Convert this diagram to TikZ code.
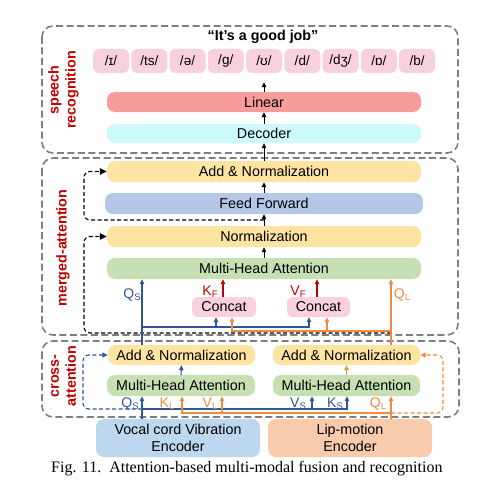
\documentclass[tikz,border=0pt]{standalone}
\usepackage{fontspec}
\setmainfont{Liberation Sans}
\newfontfamily\capfont{Liberation Serif}
\usetikzlibrary{arrows.meta,calc}
\definecolor{grayd}{HTML}{7F7F7F}
\definecolor{secred}{HTML}{C00000}
\definecolor{bcol}{HTML}{2F5597}
\definecolor{ocol}{HTML}{F08A3C}
\definecolor{rcol}{HTML}{C00000}
\definecolor{pinkf}{HTML}{F9D0DD}
\definecolor{linf}{HTML}{F79B9B}
\definecolor{decf}{HTML}{CCF9FA}
\definecolor{yelf}{HTML}{FDE4A2}
\definecolor{fff}{HTML}{B4C7E7}
\definecolor{grnf}{HTML}{C6E0B4}
\definecolor{vocf}{HTML}{BDD7EE}
\definecolor{lipf}{HTML}{F8CBAD}
\tikzset{
  x=1pt,y=-1pt,
  every node/.style={font=\fontsize{14.3}{16}\selectfont, inner sep=0pt},
  sect/.style={draw=grayd, line width=1.6pt, dash pattern=on 7pt off 3.5pt, rounded corners=11pt},
  seclab/.style={text=secred, font=\fontsize{14.3}{17}\selectfont\bfseries, rotate=90, align=center},
  bar/.style={rounded corners=8pt, minimum height=21pt},
  phon/.style={fill=pinkf, rounded corners=6pt, minimum width=36pt, minimum height=24pt, font=\fontsize{13.5}{16}\selectfont},
  ybox/.style={bar, fill=yelf},
  gbox/.style={bar, fill=grnf},
  cbox/.style={fill=pinkf, rounded corners=6pt, minimum width=64pt, minimum height=20pt},
  arr/.style={-{Triangle[length=5pt,width=4.5pt]}, line width=0.9pt},
  carr/.style={-{Triangle[length=5pt,width=4.5pt]}, line width=1.1pt},
  darr/.style={-{Triangle[length=7pt,width=6.5pt]}, line width=1.1pt, dash pattern=on 4pt off 2.5pt, rounded corners=6pt},
  cdarr/.style={-{Triangle[length=5.5pt,width=5pt]}, line width=1.1pt, dash pattern=on 4pt off 2.5pt, rounded corners=6pt},
  lab/.style={font=\fontsize{14}{16}\selectfont}
}
\newcommand{\sub}[1]{\raisebox{-0.3ex}{\fontsize{9.5}{10}\selectfont #1}}
\begin{document}
\begin{tikzpicture}
\useasboundingbox (0,0) rectangle (485,487);
% section frames
\draw[sect] (42,26) rectangle (458,153);
\draw[sect] (42,158) rectangle (458,335);
\draw[sect] (42,341) rectangle (459,417);
\node[seclab] (l1) at (63.5,90) {speech\\recognition};
\node[seclab] (l2) at (63,248) {merged-attention};
\node[seclab] (l3) at (63.5,376) {cross-\\attention};

% speech recognition
\node[font=\fontsize{14.3}{16}\selectfont\bfseries] (title) at (263,37) {“It's a good job”};
\foreach \t [count=\i from 0] in {/ɪ/,/ts/,/ə/,/g/,/ʊ/,/d/,/dʒ/,/ɒ/,/b/}{
  \node[phon] (p\i) at (111+38.25*\i,61) {\t};
}
\node[bar, fill=linf, minimum width=314pt, minimum height=20pt] (lin) at (264,102) {Linear};
\node[bar, fill=decf, minimum width=314pt, minimum height=19pt] (dec) at (264,133.5) {Decoder};
\draw[arr] (lin.north) -- (p4.south) [shorten >=9pt];
\draw[arr] (dec.north) -- (lin.south);

% merged attention
\node[ybox, minimum width=314pt] (an2) at (264,171.5) {Add \& Normalization};
\node[bar, fill=fff, minimum width=318pt] (ff) at (264,203.5) {Feed Forward};
\node[ybox, minimum width=314pt] (nrm) at (264,236.5) {Normalization};
\node[gbox, minimum width=314pt] (mmha) at (264,268.5) {Multi-Head Attention};
\node[cbox] (c1) at (224,307) {Concat};
\node[cbox, minimum width=63pt] (c2) at (318.5,307) {Concat};
\draw[arr] (an2.north) -- (dec.south);
\draw[arr] (ff.north) -- (an2.south);
\draw[arr] (nrm.north) -- (ff.south);
\draw[arr] (mmha.north) -- (nrm.south);

% cross attention
\node[ybox, minimum width=147pt, minimum height=20pt] (lan) at (181.5,355) {Add \& Normalization};
\node[gbox, minimum width=148pt] (lmha) at (181,385.5) {Multi-Head Attention};
\node[ybox, minimum width=147pt, minimum height=20pt] (ran) at (346.5,355) {Add \& Normalization};
\node[gbox, minimum width=147pt] (rmha) at (346.5,385.5) {Multi-Head Attention};
\node[fill=vocf, rounded corners=8pt, minimum width=164pt, minimum height=38pt, align=center, font=\fontsize{14.3}{17}\selectfont] (venc) at (178,438) {Vocal cord Vibration\\Encoder};
\node[fill=lipf, rounded corners=8pt, minimum width=164pt, minimum height=38pt, align=center, font=\fontsize{14.3}{17}\selectfont] (lenc) at (350,438) {Lip-motion\\Encoder};

% x positions
\coordinate (xqs) at (142,0);
\coordinate (xql) at (391,0);
\coordinate (xkl) at (182,0);
\coordinate (xvl) at (222,0);
\coordinate (xvs) at (312,0);
\coordinate (xks) at (347,0);
\coordinate (bj) at (142,409);
\coordinate (oj) at (391,413);
\coordinate (bm) at (142,327);
\coordinate (om) at (391,331);

% residual dashed (cross)
\draw[cdarr, bcol] (bj) -| (83,355) -- (lan.west);
\draw[cdarr, ocol] (oj) -| (443,355) -- (ran.east);

% cross connectors
\draw[carr, bcol] (venc.north -| xqs) -- (lmha.south -| xqs);
\draw[carr, bcol] (bj) -| (rmha.south -| xks);
\draw[carr, bcol] (bj -| xvs) -- (rmha.south -| xvs);
\draw[carr, ocol] (lenc.north -| xql) -- (rmha.south -| xql);
\draw[carr, ocol] (oj) -| (lmha.south -| xkl);
\draw[carr, ocol] (oj -| xvl) -- (lmha.south -| xvl);
\draw[carr, bcol] (lmha.north) -- (lan.south);
\draw[carr, ocol] (rmha.north) -- (ran.south);
\node[lab, text=bcol] (lqs1) at (130,404) {Q\sub{S}};
\node[lab, text=ocol] (lkl) at (167,404) {K\sub{L}};
\node[lab, text=ocol] (lvl) at (210,404) {V\sub{L}};
\node[lab, text=bcol] (lvs) at (298,404) {V\sub{S}};
\node[lab, text=bcol] (lks) at (335,404) {K\sub{S}};
\node[lab, text=ocol] (lql1) at (378,404) {Q\sub{L}};

% residual dashed (merged)
\coordinate (r1) at (264,220);
\coordinate (r2) at (391,333);
\draw[darr] (r1) -| (84,171.5) -- (an2.west);
\draw[darr] (r2) -| (84,236.5) -- (nrm.west);

% merged connectors
\draw[carr, bcol] (lan.north -| xqs) -- (mmha.south -| xqs);
\draw[carr, bcol] (bm) -| (c2.south -| 309,0);
\draw[carr, bcol] (bm -| 216,0) -- (c1.south -| 216,0);
\draw[carr, ocol] (ran.north -| xql) -- (mmha.south -| xql);
\draw[carr, ocol] (om) -| (c1.south -| 232,0);
\draw[carr, ocol] (om -| 327,0) -- (c2.south -| 327,0);
\draw[carr, rcol] (c1.north -| 223,0) -- (mmha.south -| 223,0);
\draw[carr, rcol] (c2.north -| 317,0) -- (mmha.south -| 317,0);
\node[lab, text=bcol] (lqs2) at (132,295) {Q\sub{S}};
\node[lab, text=ocol] (lql2) at (402,295) {Q\sub{L}};
\node[lab, text=rcol] (lkf) at (210,292) {K\sub{F}};
\node[lab, text=rcol] (lvf) at (298,292) {V\sub{F}};

% caption
\node[anchor=west, font=\capfont\fontsize{16}{18}\selectfont] (cap) at (51,469) {Fig. 11.\ \ Attention-based multi-modal fusion and recognition};
\end{tikzpicture}
\end{document}
